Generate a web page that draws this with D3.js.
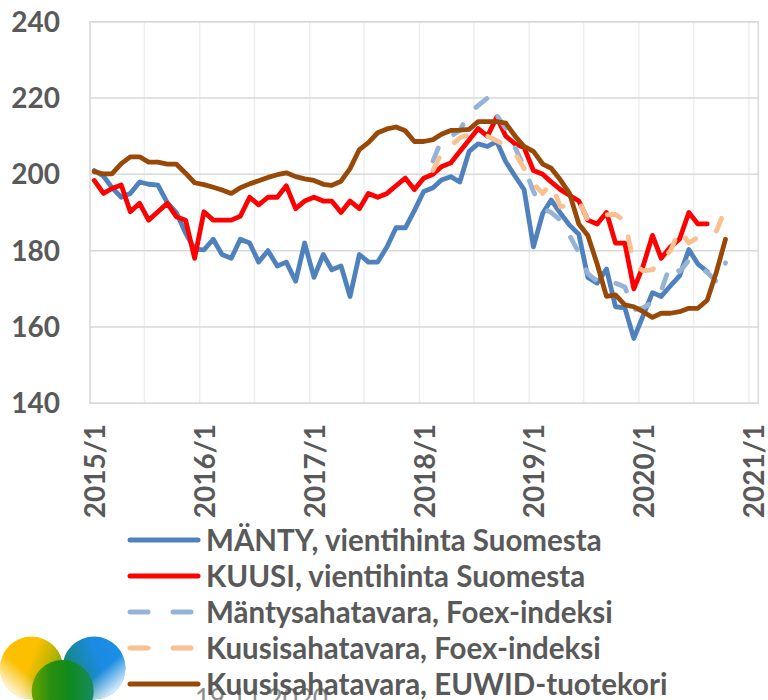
<!DOCTYPE html>
<html>
<head>
<meta charset="utf-8">
<script src="https://cdn.jsdelivr.net/npm/d3@7/dist/d3.min.js"></script>
<style>
  body { margin: 0; background: #fff; }
  text { font-family: Lato, "Open Sans", sans-serif; }
</style>
</head>
<body>
<div id="chart"></div>
<script>
//----------------------------------------- data -----------------------------------------
// monthly values, index 0 = 2015/1
const startMonth = new Date(2015, 0, 15);

const mantyExport = [201, 199.5, 196.5, 194, 195, 198, 197.4, 197.2, 192.6, 190, 184.6, 180.4,
  180.2, 183, 179, 178, 183, 182, 177, 180, 176, 177, 172, 182,
  173, 179, 175, 176, 168, 179, 177, 177, 181, 186, 186, 190.5,
  195.5, 196.5, 198.5, 199.4, 198, 206, 208, 207.3, 208.6, 203.3, 199.5, 196,
  181, 189.8, 193.3, 189.8, 186.7, 184.3, 173, 171.5, 175.2, 165.3, 165, 157,
  163, 169, 168, 170.8, 173.4, 180.3, 176.5, 174.5];

const kuusiExport = [198.4, 195, 196.3, 197.2, 190.2, 192.4, 188, 190.2, 192.4, 188.9, 188, 178,
  190.2, 188, 188, 188, 189, 194, 192, 194, 194, 197, 191, 193,
  194, 193, 193, 190, 193, 191, 195, 194, 195, 197, 199, 196,
  199, 200, 202, 203, 206, 209, 212, 210, 215, 210, 208, 207,
  201, 200, 198, 196, 194.5, 193, 188, 187, 190, 182, 182, 170,
  176, 184, 178, 181, 183, 190, 187, 187];

// Foex series start at 2018/2 (index 37)
const foexStart = 37;
const mantyFoex = [203.5, 209, 210, 211.5, 216, 218, 220, 215.5, 212, 207, 202,
  195.5, 191, 190, 188, 184, 179.5, 174, 172, 171, 171.5, 170.5, 164.5,
  165, 166.5, 169.5, 176.5, 174.5, 177.5, 176, 174.3, 171.8, 176.8];
const kuusiFoex = [201, 205.5, 207.5, 209.5, 210.5, 210, 210, 208.8, 207.5, 205.5, 201.5,
  197.5, 195, 197.6, 191.5, 192, 193, 188, 189, 189.4, 189.5, 187.8, 176.5,
  174.7, 175, 177.3, 180, 185.5, 182, 183.5, 184.5, 185.2, 191.2];

const kuusiEuwid = [200.7, 200.1, 200.1, 202.8, 204.6, 204.6, 203.2, 203.2, 202.7, 202.7, 200.3, 197.8,
  197.3, 196.6, 195.9, 195, 196.5, 197.5, 198.3, 199.2, 199.9, 200.4, 199.4, 198.8,
  198.4, 197.4, 197.1, 198.2, 201.5, 206.5, 208.3, 210.9, 211.9, 212.4, 211.4, 208.6,
  208.6, 209.1, 210.5, 211.5, 211.6, 211.8, 213.8, 213.8, 213.8, 213.4, 210, 207.3,
  206, 202.7, 201.6, 198.5, 195, 187, 184, 176.5, 168, 168.4, 165.8, 165.3,
  164, 162.5, 163.6, 163.6, 164, 164.9, 164.9, 167, 174.5, 183];

const seriesNames = ["MÄNTY, vientihinta Suomesta", "KUUSI, vientihinta Suomesta",
  "Mäntysahatavara, Foex-indeksi", "Kuusisahatavara, Foex-indeksi", "Kuusisahatavara, EUWID-tuotekori"];
const seriesColors = ["#4f81bd", "#ff0000", "#95b3d7", "#fac090", "#984807"];

const yTicks = [140, 160, 180, 200, 220, 240];
const xTickLabels = ["2015/1", "2016/1", "2017/1", "2018/1", "2019/1", "2020/1", "2021/1"];
const dateText = "19.11.2020";

//----------------------------------------- layout -----------------------------------------
const w = 768, h = 700;
const plot = {left: 90, right: 758.3, top: 21.7, bottom: 403.3};

const svg = d3.select("#chart")
  .append("svg")
    .attr("width", w)
    .attr("height", h);

const x = d3.scaleTime()
  .domain([new Date(2015, 0, 1), new Date(2021, 1, 1)])
  .range([plot.left, plot.right]);

const y = d3.scaleLinear()
  .domain([140, 240])
  .range([plot.bottom, plot.top]);

const monthDate = (i) => d3.timeMonth.offset(startMonth, i);

//----------------------------------------- grid -----------------------------------------
const halfYears = d3.timeMonth.every(6).range(new Date(2015, 0, 1), new Date(2021, 0, 2));

svg.append("g")
  .selectAll("line")
  .data(halfYears)
  .enter()
  .append("line")
    .attr("x1", d => x(d)).attr("x2", d => x(d))
    .attr("y1", plot.top).attr("y2", plot.bottom)
    .attr("stroke", "#efefef")
    .attr("stroke-width", 1.5);

svg.append("g")
  .selectAll("line")
  .data(yTicks)
  .enter()
  .append("line")
    .attr("x1", plot.left).attr("x2", plot.right)
    .attr("y1", d => y(d)).attr("y2", d => y(d))
    .attr("stroke", "#d9d9d9")
    .attr("stroke-width", 1.5);

svg.append("rect")
  .attr("x", plot.left).attr("y", plot.top)
  .attr("width", plot.right - plot.left)
  .attr("height", plot.bottom - plot.top)
  .attr("fill", "none")
  .attr("stroke", "#d9d9d9")
  .attr("stroke-width", 1.5);

//----------------------------------------- axes labels -----------------------------------------
svg.append("g")
  .selectAll("text")
  .data(yTicks)
  .enter()
  .append("text")
    .attr("x", 60)
    .attr("y", d => y(d))
    .attr("dy", "0.36em")
    .attr("text-anchor", "end")
    .attr("font-size", 28)
    .attr("font-weight", "bold")
    .attr("fill", "#595959")
    .text(d => d);

const parseTick = d3.timeParse("%Y/%m");
svg.append("g")
  .selectAll("text")
  .data(xTickLabels)
  .enter()
  .append("text")
    .attr("transform", d => "translate(" + (x(parseTick(d)) + 5) + ",424) rotate(-90)")
    .attr("dy", "0.36em")
    .attr("text-anchor", "end")
    .attr("font-size", 28)
    .attr("font-weight", "bold")
    .attr("fill", "#595959")
    .text(d => d);

//----------------------------------------- lines -----------------------------------------
const series = [
  {values: mantyExport, start: 0, dash: null},
  {values: kuusiExport, start: 0, dash: null},
  {values: mantyFoex, start: foexStart, dash: "14,22"},
  {values: kuusiFoex, start: foexStart, dash: "14,22"},
  {values: kuusiEuwid, start: 0, dash: null}
];

const line = d3.line()
  .x(d => x(d.date))
  .y(d => y(d.value));

series.forEach((s, k) => {
  const pts = s.values.map((v, i) => ({date: monthDate(s.start + i), value: v}));
  svg.append("path")
    .datum(pts)
    .attr("d", line)
    .attr("fill", "none")
    .attr("stroke", seriesColors[k])
    .attr("stroke-width", 4.8)
    .attr("stroke-linejoin", "round")
    .attr("stroke-linecap", "round")
    .attr("stroke-dasharray", s.dash);
});

//----------------------------------------- logo + date -----------------------------------------
const defs = svg.append("defs");
function grad(id, x1, y1, x2, y2, stops) {
  const g = defs.append("linearGradient").attr("id", id)
    .attr("x1", x1).attr("y1", y1).attr("x2", x2).attr("y2", y2);
  stops.forEach(s => g.append("stop").attr("offset", s[0]).attr("stop-color", s[1]).attr("stop-opacity", s[2] == null ? 1 : s[2]));
}
grad("gLeft", 0, 0.3, 1, 0.7, [[0, "#ffc000"], [0.45, "#fbc000"], [0.75, "#b4b400"], [1, "#5a9a10"]]);
grad("gLeftFade", 0.75, 0.25, 0.15, 0.95, [[0.5, "#fff", 0], [1, "#fff", 1]]);
grad("gRight", 1, 0.3, 0, 0.7, [[0, "#1b8fe6"], [0.4, "#1b8ae0"], [0.75, "#17889a"], [1, "#168a50"]]);
grad("gRightFade", 0.25, 0.25, 0.85, 0.95, [[0.5, "#fff", 0], [1, "#fff", 1]]);
grad("gMid", 0, 0, 1, 0, [[0, "#6aa400"], [0.3, "#2a8e10"], [0.6, "#0f8a1c"], [1, "#178a60"]]);

const logo = svg.append("g");
logo.append("circle").attr("cx", 31.5).attr("cy", 668).attr("r", 31.5).attr("fill", "url(#gLeft)");
logo.append("circle").attr("cx", 31.5).attr("cy", 668).attr("r", 31.5).attr("fill", "url(#gLeftFade)");
logo.append("circle").attr("cx", 94).attr("cy", 668).attr("r", 31.5).attr("fill", "url(#gRight)");
logo.append("circle").attr("cx", 94).attr("cy", 668).attr("r", 31.5).attr("fill", "url(#gRightFade)");
logo.append("circle").attr("cx", 62.7).attr("cy", 691).attr("r", 31).attr("fill", "url(#gMid)");

svg.append("text")
  .attr("x", 195)
  .attr("y", 708)
  .attr("font-size", 26)
  .attr("fill", "#8c8c8c")
  .text(dateText);

//----------------------------------------- legend -----------------------------------------
const legendY = [540, 576, 612, 648, 684];
const legend = svg.append("g")
  .selectAll("g")
  .data(seriesNames)
  .enter()
  .append("g")
    .attr("transform", (d, i) => "translate(0," + legendY[i] + ")");

legend.append("line")
  .attr("x1", 130).attr("x2", 198)
  .attr("y1", 0).attr("y2", 0)
  .attr("stroke", (d, i) => seriesColors[i])
  .attr("stroke-width", 5)
  .attr("stroke-linecap", "round")
  .attr("stroke-dasharray", (d, i) => series[i].dash ? "18,25" : null);

legend.append("text")
  .attr("x", 206)
  .attr("y", 0)
  .attr("dy", "0.36em")
  .attr("font-size", 29.5)
  .attr("font-weight", "bold")
  .attr("fill", "#595959")
  .text(d => d);
</script>
</body>
</html>
